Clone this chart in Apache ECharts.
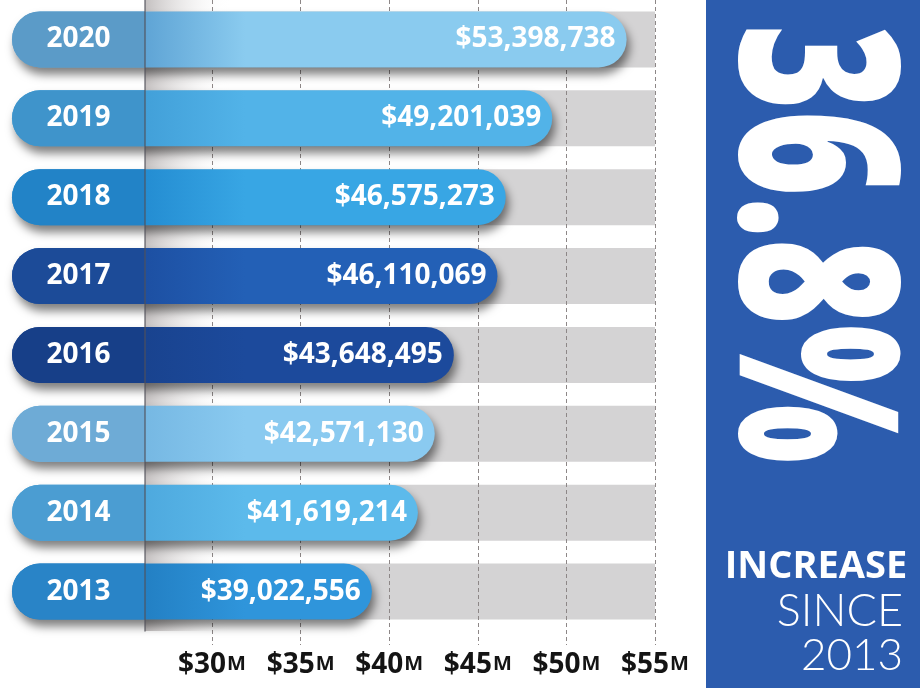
<!DOCTYPE html>
<html>
<head>
<meta charset="utf-8">
<script src="https://cdn.jsdelivr.net/npm/echarts@6/dist/echarts.min.js"></script>
<style>
  html, body { margin: 0; padding: 0; background: #fff; }
  #chart { width: 920px; height: 688px; }
</style>
</head>
<body>
<div id="chart"></div>
<script>
// data
const years = ['2020', '2019', '2018', '2017', '2016', '2015', '2014', '2013']
const amounts = [53398738, 49201039, 46575273, 46110069, 43648495, 42571130, 41619214, 39022556]
const tickMin = 30000000
const tickMax = 55000000
const tickStep = 5000000
const increaseText = '36.8%'
const increaseLines = ['INCREASE', 'SINCE', '2013']

// colours per row
const pillColors = ['#5b9bc8', '#3f94cb', '#2283c7', '#1c4b98', '#173f88', '#6eabd6', '#4b9dd2', '#2984c7']
const barDark = ['#5fa4d5', '#42a0d9', '#248dd2', '#1d50a3', '#19438f', '#76b8e3', '#4ea9de', '#2380c4']
const barLight = ['#8acbef', '#52b3e8', '#38a6e4', '#2360b6', '#1c4a9c', '#8acaf0', '#5cbaeb', '#2f95db']

// layout (pixels)
const plotL = 212, plotR = 655, barL = 12, divX = 145
const bandTop = -9, bandBottom = 57
const barMin = tickMax - (plotR - barL) * (tickMax - tickMin) / (plotR - plotL)

const myChart = echarts.init(document.getElementById('chart'))

const shadow = {
  shadowColor: 'rgba(0,0,0,0.5)',
  shadowBlur: 10,
  shadowOffsetY: 7,
  shadowOffsetX: 3,
}

const option = {
  backgroundColor: '#fff',
  animation: false,
  grid: [
    // 0: value bars
    { left: barL, right: 920 - plotR, top: bandTop, bottom: bandBottom },
    // 1: tick axis
    { left: plotL, right: 920 - plotR, top: 0, bottom: 43 },
    // 2: gray tracks
    {
      left: divX, right: 920 - plotR, top: bandTop, bottom: bandBottom,
      show: true, borderWidth: 0,
      backgroundColor: new echarts.graphic.LinearGradient(0, 0, 1, 0, [
        { offset: 0, color: '#c4c0c0' },
        { offset: 0.17, color: 'rgba(255,255,255,0)' },
      ]),
    },
    // 3: year pills
    { left: barL, right: 920 - divX, top: bandTop, bottom: bandBottom },
  ],
  xAxis: [
    { gridIndex: 0, type: 'value', min: barMin, max: tickMax, show: false },
    {
      gridIndex: 1, type: 'value', min: tickMin, max: tickMax, interval: tickStep, z: 2,
      axisLine: { show: false },
      axisTick: { show: false },
      splitLine: { show: true, lineStyle: { color: '#8d8787', type: [4, 3], width: 1 } },
      axisLabel: {
        margin: 6,
        formatter: v => `{d|$${v / 1000000}}{m|M}`,
        rich: {
          d: { fontSize: 28, fontWeight: 'bold', fontFamily: 'Open Sans', color: '#141414' },
          m: { fontSize: 20, fontWeight: 'bold', fontFamily: 'Open Sans', color: '#141414', padding: [0, 0, 1, 1] },
        },
      },
    },
    { gridIndex: 2, type: 'value', min: 0, max: 1, show: false },
    { gridIndex: 3, type: 'value', min: 0, max: 1, show: false },
  ],
  yAxis: [
    { gridIndex: 0, type: 'category', inverse: true, data: years, show: false },
    { gridIndex: 1, type: 'value', show: false },
    {
      gridIndex: 2, type: 'category', inverse: true, data: years, z: 10,
      axisLine: { show: true, lineStyle: { color: 'rgba(80,80,90,0.75)', width: 1.5 } },
      axisTick: { show: false },
      axisLabel: { show: false },
    },
    { gridIndex: 3, type: 'category', inverse: true, data: years, show: false },
  ],
  series: [
    {
      name: 'track',
      type: 'bar',
      xAxisIndex: 2,
      yAxisIndex: 2,
      z: 1,
      barWidth: 56,
      silent: true,
      itemStyle: { color: '#d4d3d4' },
      data: years.map(() => 1),
    },
    {
      name: 'amount',
      type: 'bar',
      xAxisIndex: 0,
      yAxisIndex: 0,
      z: 3,
      barWidth: 56,
      label: {
        show: true,
        position: 'insideRight',
        distance: 11,
        color: '#fff',
        fontSize: 28,
        fontWeight: 'bold',
        fontFamily: 'Open Sans',
        formatter: p => '$' + p.value.toLocaleString('en-US'),
      },
      data: amounts.map((v, i) => ({
        value: v,
        itemStyle: Object.assign({
          borderRadius: 28,
          color: new echarts.graphic.LinearGradient(divX, 0, divX + 100, 0, [
            { offset: 0, color: barDark[i] },
            { offset: 1, color: barLight[i] },
          ], true),
        }, shadow),
      })),
    },
    {
      name: 'year',
      type: 'bar',
      xAxisIndex: 3,
      yAxisIndex: 3,
      z: 4,
      barWidth: 56,
      label: {
        show: true,
        position: 'inside',
        formatter: '{b}',
        color: '#fff',
        fontSize: 28,
        fontWeight: 'bold',
        fontFamily: 'Open Sans',
      },
      data: years.map((y, i) => ({
        value: 1,
        itemStyle: { borderRadius: [28, 0, 0, 28], color: pillColors[i] },
      })),
    },
  ],
  graphic: [
    {
      type: 'rect',
      left: 706,
      top: 0,
      z: 0,
      shape: { width: 214, height: 688 },
      style: { fill: '#2c5cae' },
    },
    {
      type: 'text',
      x: 803,
      y: 244,
      rotation: -Math.PI / 2,
      scaleX: 0.66,
      z: 5,
      style: {
        text: increaseText,
        fill: '#fff',
        font: '800 222px "Open Sans"',
        align: 'center',
        verticalAlign: 'middle',
      },
    },
    {
      type: 'text',
      x: 816,
      y: 567,
      z: 5,
      style: {
        text: increaseLines[0],
        fill: '#fff',
        font: 'bold 38px "Open Sans"',
        align: 'center',
        verticalAlign: 'middle',
      },
    },
    {
      type: 'text',
      x: 903,
      y: 611,
      z: 5,
      style: {
        text: increaseLines[1],
        fill: '#fff',
        font: '300 45px Lato',
        align: 'right',
        verticalAlign: 'middle',
      },
    },
    {
      type: 'text',
      x: 903,
      y: 656,
      z: 5,
      style: {
        text: increaseLines[2],
        fill: '#fff',
        font: '300 44px Lato',
        align: 'right',
        verticalAlign: 'middle',
      },
    },
  ],
}

myChart.setOption(option)
</script>
</body>
</html>
